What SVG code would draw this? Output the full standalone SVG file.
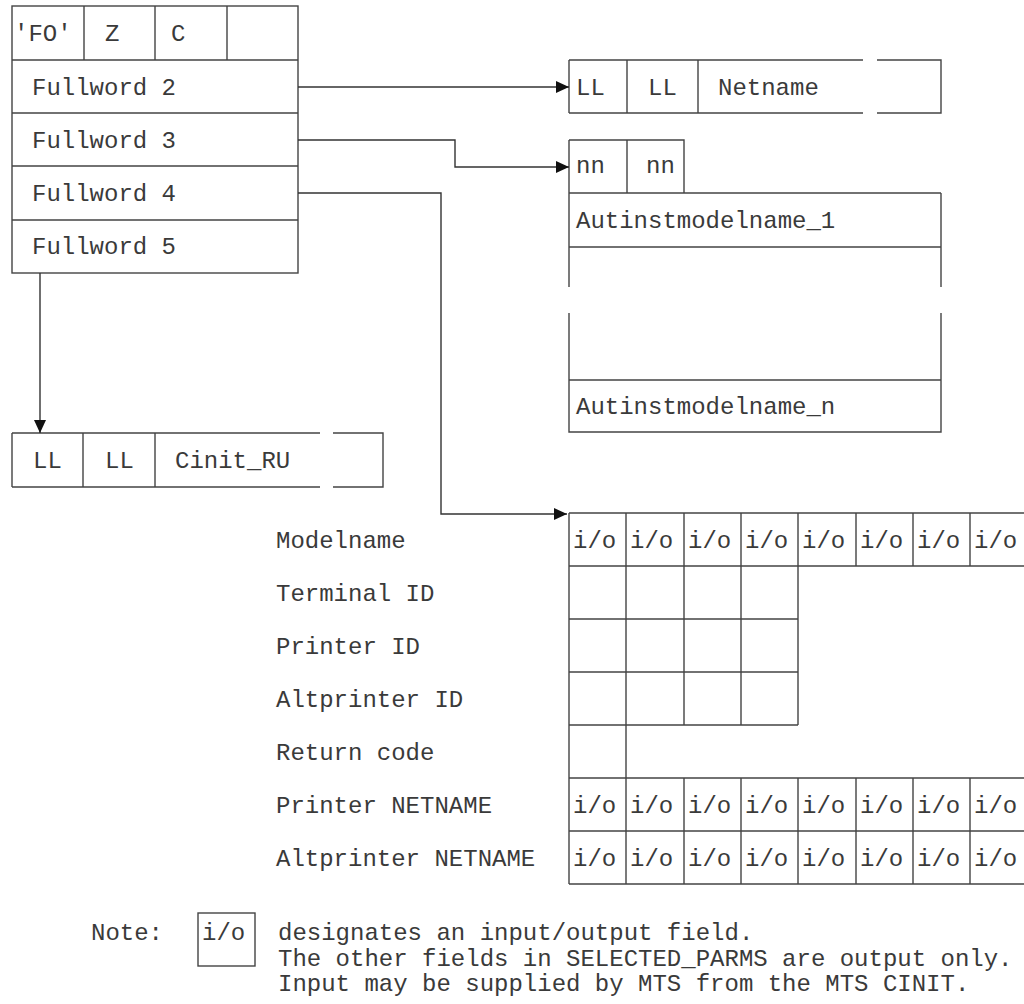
<svg xmlns="http://www.w3.org/2000/svg" width="1024" height="1004" viewBox="0 0 1024 1004">
<defs>
<marker id="arr" markerUnits="userSpaceOnUse" markerWidth="13" markerHeight="12" refX="13" refY="6" orient="auto">
<path d="M0,0 L13,6 L0,12 Z" fill="#111"/>
</marker>
<style>
.ln{stroke:#444;stroke-width:1.4;fill:none}
.t{font-family:"Liberation Mono","DejaVu Sans Mono",monospace;font-size:24px;fill:#3a3a3a}
.cn{stroke:#333;stroke-width:1.4;fill:none}
</style>
</defs>
<rect width="1024" height="1004" fill="#fff"/>

<g id="parmlist">
<rect class="ln" x="12" y="6" width="286" height="267"/>
<path class="ln" d="M84,6 V60 M155,6 V60 M227,6 V60 M12,60 H298 M12,113 H298 M12,166 H298 M12,220 H298"/>
<text class="t" x="14" y="41">'FO'</text>
<text class="t" x="105" y="41">Z</text>
<text class="t" x="171" y="41">C</text>
<text class="t" x="32" y="95">Fullword 2</text>
<text class="t" x="32" y="148">Fullword 3</text>
<text class="t" x="32" y="201">Fullword 4</text>
<text class="t" x="32" y="254">Fullword 5</text>
</g>

<g id="netname">
<path class="ln" d="M569,60 V113 M627,60 V113 M698,60 V113 M569,60 H863 M877,60 H941 V113 H877 M863,113 H569"/>
<text class="t" x="576" y="95">LL</text>
<text class="t" x="648" y="95">LL</text>
<text class="t" x="718" y="95">Netname</text>
</g>

<g id="autinst">
<path class="ln" d="M569,140 H684 V193 M627,140 V193 M569,140 V287 M941,193 V287 M569,313 V432 H941 V313 M569,193 H941 M569,247 H941 M569,380 H941"/>
<text class="t" x="576" y="173">nn</text>
<text class="t" x="646" y="173">nn</text>
<text class="t" x="576" y="228">Autinstmodelname_1</text>
<text class="t" x="576" y="414">Autinstmodelname_n</text>
</g>

<g id="cinit">
<path class="ln" d="M12,433 V487 M83,433 V487 M155,433 V487 M12,433 H320 M333,433 H383 V487 H333 M320,487 H12"/>
<text class="t" x="33" y="468">LL</text>
<text class="t" x="105" y="468">LL</text>
<text class="t" x="175" y="468">Cinit_RU</text>
</g>

<g id="selected-parms">
<path class="ln" d="M569,513 H1024 M569,566 H1024 M569,619 H798 M569,672 H798 M569,725 H798 M569,778 H1024 M569,831 H1024 M569,884 H1024 M569,513 V884 M626,513 V884 M684,513 V725 M741,513 V725 M798,513 V725 M684,778 V884 M741,778 V884 M798,778 V884 M856,513 V566 M913,513 V566 M970,513 V566 M856,778 V884 M913,778 V884 M970,778 V884"/>
<g class="t">
<text x="573" y="548">i/o</text><text x="630" y="548">i/o</text><text x="688" y="548">i/o</text><text x="745" y="548">i/o</text><text x="802" y="548">i/o</text><text x="860" y="548">i/o</text><text x="917" y="548">i/o</text><text x="974" y="548">i/o</text>
<text x="573" y="813">i/o</text><text x="630" y="813">i/o</text><text x="688" y="813">i/o</text><text x="745" y="813">i/o</text><text x="802" y="813">i/o</text><text x="860" y="813">i/o</text><text x="917" y="813">i/o</text><text x="974" y="813">i/o</text>
<text x="573" y="866">i/o</text><text x="630" y="866">i/o</text><text x="688" y="866">i/o</text><text x="745" y="866">i/o</text><text x="802" y="866">i/o</text><text x="860" y="866">i/o</text><text x="917" y="866">i/o</text><text x="974" y="866">i/o</text>
</g>
<text class="t" x="276" y="548">Modelname</text>
<text class="t" x="276" y="601">Terminal ID</text>
<text class="t" x="276" y="654">Printer ID</text>
<text class="t" x="276" y="707">Altprinter ID</text>
<text class="t" x="276" y="760">Return code</text>
<text class="t" x="276" y="813">Printer NETNAME</text>
<text class="t" x="276" y="866">Altprinter NETNAME</text>
</g>

<g id="note">
<text class="t" x="91" y="940">Note:</text>
<rect class="ln" x="198" y="913" width="57" height="53"/>
<text class="t" x="202" y="940">i/o</text>
<text class="t" x="278" y="940">designates an input/output field.</text>
<text class="t" x="278" y="966">The other fields in SELECTED_PARMS are output only.</text>
<text class="t" x="278" y="991">Input may be supplied by MTS from the MTS CINIT.</text>
</g>

<g id="connectors">
<path class="cn" d="M298,87 H569" marker-end="url(#arr)"/>
<path class="cn" d="M298,140 H455 V167 H569" marker-end="url(#arr)"/>
<path class="cn" d="M298,193 H441 V514 H567" marker-end="url(#arr)"/>
<path class="cn" d="M40,273 V433" marker-end="url(#arr)"/>
</g>
</svg>
